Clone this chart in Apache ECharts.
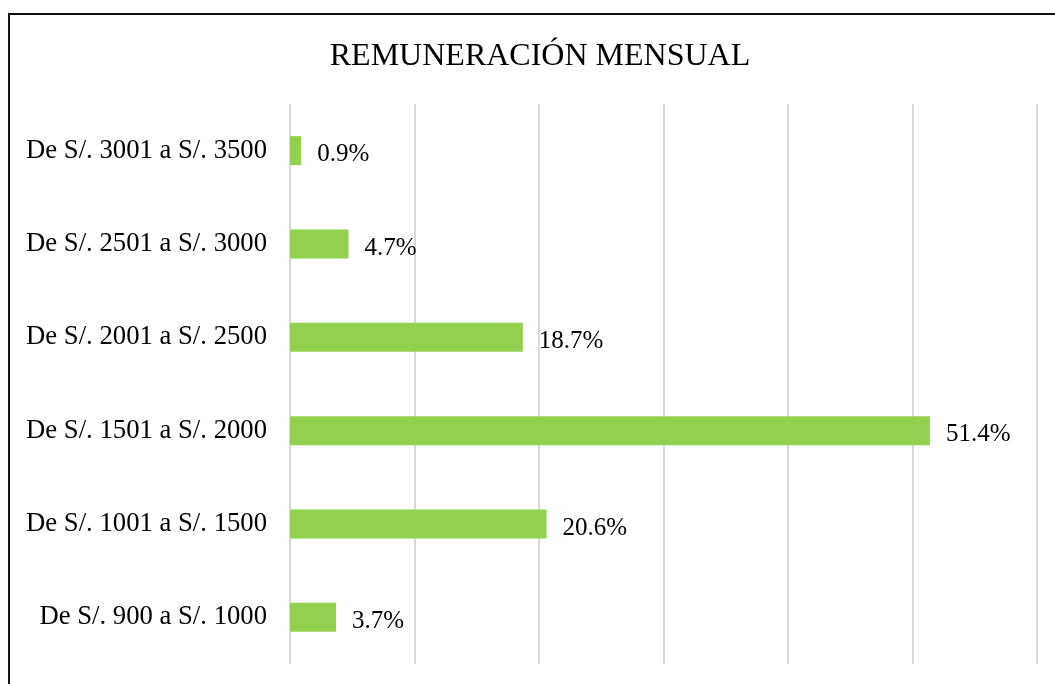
<!DOCTYPE html>
<html>
<head>
<meta charset="utf-8">
<script src="https://cdn.jsdelivr.net/npm/echarts@6/dist/echarts.min.js"></script>
<style>
  html, body { margin: 0; padding: 0; background: #fff; overflow: hidden; }
  #frame { position: absolute; left: 8px; top: 13px; width: 1100px; height: 720px; border: 2px solid #111; box-sizing: border-box; }
  #chart { position: absolute; left: 0; top: 0; width: 1055px; height: 684px; }
</style>
</head>
<body>
<div id="frame"></div>
<div id="chart"></div>
<script>
// rangos de remuneracion (de abajo hacia arriba)
var categories = [
  "De S/. 900 a S/. 1000",
  "De S/. 1001 a S/. 1500",
  "De S/. 1501 a S/. 2000",
  "De S/. 2001 a S/. 2500",
  "De S/. 2501 a S/. 3000",
  "De S/. 3001 a S/. 3500"
];
var percents = [3.7, 20.6, 51.4, 18.7, 4.7, 0.9];
var xTicks = [0, 10, 20, 30, 40, 50, 60];

var font = "'Liberation Serif', 'Times New Roman', serif";
var chart = echarts.init(document.getElementById("chart"));

var option = {
  backgroundColor: "transparent",
  animation: false,
  title: {
    text: "REMUNERACIÓN MENSUAL",
    left: 535,
    top: 36,
    textAlign: "center",
    textStyle: {
      fontFamily: font,
      fontSize: 32,
      fontWeight: "normal",
      color: "#000"
    }
  },
  grid: {
    left: 290,
    right: 18,
    top: 104,
    bottom: 20,
    containLabel: false
  },
  xAxis: {
    type: "value",
    min: xTicks[0],
    max: xTicks[xTicks.length - 1],
    interval: 10,
    axisLabel: { show: false },
    axisLine: { show: false },
    axisTick: { show: false },
    splitLine: {
      show: true,
      lineStyle: { color: "#d9d9d9", width: 2 }
    }
  },
  yAxis: {
    type: "category",
    data: categories,
    axisLine: { show: false },
    axisTick: { show: false },
    axisLabel: {
      margin: 23,
      padding: [3, 0, 0, 0],
      fontFamily: font,
      fontSize: 26.7,
      color: "#000"
    }
  },
  series: [
    {
      type: "bar",
      data: percents,
      barWidth: 29,
      itemStyle: { color: "#92d050" },
      label: {
        show: true,
        position: "right",
        distance: 16,
        offset: [0, 4],
        formatter: function (p) { return p.value.toFixed(1) + "%"; },
        fontFamily: font,
        fontSize: 25,
        color: "#000"
      }
    }
  ]
};

chart.setOption(option);
</script>
</body>
</html>
